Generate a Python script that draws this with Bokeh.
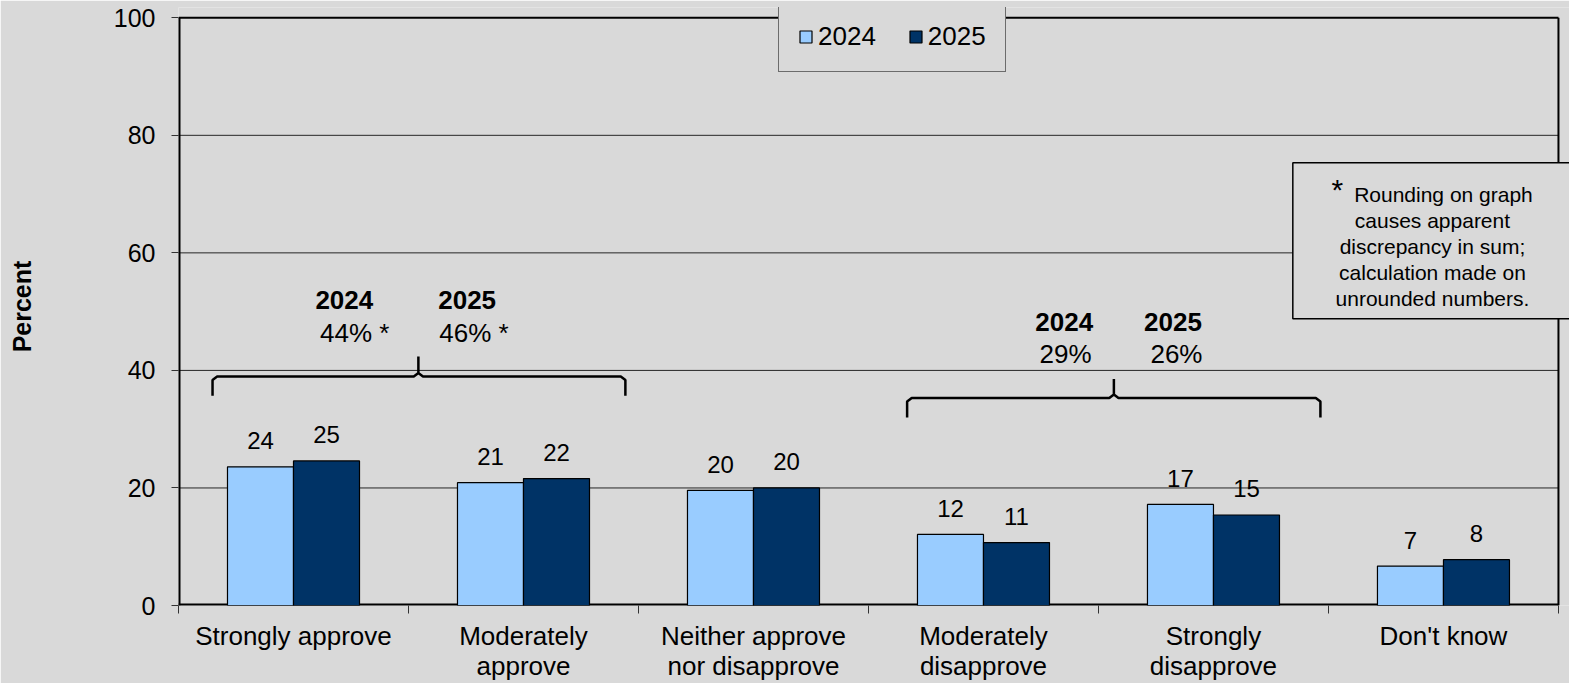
from bokeh.plotting import figure
from bokeh.models import Range1d, FixedTicker, Legend, LegendItem
from bokeh.embed import file_html
from bokeh.resources import INLINE
from bokeh.core.properties import value

# ---------------- data ----------------
categories = ["Strongly approve", "Moderately\napprove", "Neither approve\nnor disapprove",
              "Moderately\ndisapprove", "Strongly\ndisapprove", "Don't know"]
years = ["2024", "2025"]
values_2024 = [23.6, 20.9, 19.6, 12.1, 17.2, 6.7]
values_2025 = [24.6, 21.6, 20.0, 10.7, 15.4, 7.8]
y_ticks = [0, 20, 40, 60, 80, 100]
approve_totals = ["44% *", "46% *"]
disapprove_totals = ["29%", "26%"]
note_lines = ["Rounding on graph", "causes apparent", "discrepancy in sum;",
              "calculation made on", "unrounded numbers."]

FONT = value("Liberation Sans")
BG = "#d9d9d9"
C2024 = "#99ccff"
C2025 = "#003366"

n = len(categories)
Y_TOP = 101.75          # a little headroom above 100 so the legend can sit over the top border
X_END = n + 0.048       # a little room right of the last category for the note box

p = figure(width=1569, height=683, x_range=Range1d(0, X_END), y_range=Range1d(0, Y_TOP),
           output_backend="svg", toolbar_location=None,
           min_border_left=178, min_border_right=0, min_border_top=7, min_border_bottom=78,
           background_fill_color=BG, border_fill_color=BG)
p.outline_line_color = None

centers = [i + 0.5 for i in range(n)]
bw = 0.287
x24 = [c - bw / 2 for c in centers]
x25 = [c + bw / 2 for c in centers]

# grid lines and plot border (drawn through the data scales)
inner = y_ticks[1:-1]
p.segment(x0=[0] * len(inner), x1=[n] * len(inner), y0=inner, y1=inner,
          line_color="#262626", line_width=1)
p.segment(x0=[0, n], x1=[n, n], y0=[y_ticks[-1], 0], y1=[y_ticks[-1], y_ticks[-1]],
          line_color="black", line_width=2)
p.segment(x0=[0, 0], x1=[0, n], y0=[0, 0], y1=[y_ticks[-1], 0],
          line_color="black", line_width=4)

r24 = p.vbar(x=x24, top=values_2024, width=bw, fill_color=C2024, line_color="black", line_width=1.2)
r25 = p.vbar(x=x25, top=values_2025, width=bw, fill_color=C2025, line_color="black", line_width=1.2)

# data labels
p.text(x=x24, y=values_2024, text=[f"{v:.0f}" for v in values_2024], text_font=FONT,
       text_font_size="24px", text_align="center", text_baseline="middle", y_offset=-26,
       text_color="black")
p.text(x=x25, y=values_2025, text=[f"{v:.0f}" for v in values_2025], text_font=FONT,
       text_font_size="24px", text_align="center", text_baseline="middle", y_offset=-26,
       text_color="black")

# axes
p.yaxis.ticker = FixedTicker(ticks=y_ticks)
p.yaxis.major_label_text_font = "Liberation Sans"
p.yaxis.major_label_text_font_size = "25px"
p.yaxis.major_label_text_color = "black"
p.yaxis.major_tick_out = 7
p.yaxis.major_tick_in = 0
p.yaxis.major_tick_line_color = "#333333"
p.yaxis.minor_tick_line_color = None
p.yaxis.axis_line_color = None
p.yaxis.major_label_standoff = 16
p.yaxis.axis_label = "Percent"
p.yaxis.axis_label_text_font = "Liberation Sans"
p.yaxis.axis_label_text_font_style = "bold"
p.yaxis.axis_label_text_font_size = "25px"
p.yaxis.axis_label_text_color = "black"
p.yaxis.axis_label_standoff = 75

p.xaxis.ticker = FixedTicker(ticks=centers, minor_ticks=list(range(n + 1)))
p.xaxis.major_label_overrides = {c: lab for c, lab in zip(centers, categories)}
p.xaxis.major_label_text_font = "Liberation Sans"
p.xaxis.major_label_text_font_size = "26px"
p.xaxis.major_label_text_color = "black"
p.xaxis.major_label_text_line_height = 1.0
p.xaxis.major_tick_line_color = None
p.xaxis.major_tick_out = 0
p.xaxis.major_tick_in = 0
p.xaxis.minor_tick_out = 8
p.xaxis.minor_tick_in = 0
p.xaxis.minor_tick_line_color = "#333333"
p.xaxis.axis_line_color = None
p.xaxis.major_label_standoff = 7

p.xgrid.grid_line_color = None
p.ygrid.grid_line_color = None


# brackets
def bracket(x0, x1, xc, yh, yhook, ypeak, dx=0.02, dy=0.6):
    xs = [x0, x0, x0 + dx, xc - dx, xc, xc, xc, xc + dx, x1 - dx, x1, x1]
    ys = [yhook, yh - dy, yh, yh, yh + dy, ypeak, yh + dy, yh, yh, yh - dy, yhook]
    return xs, ys


bx, by = bracket(0.148, 1.943, 1.043, 38.95, 35.7, 42.35)
p.line(bx, by, line_color="black", line_width=2.5)
bx, by = bracket(3.168, 4.965, 4.067, 35.3, 32.0, 38.55)
p.line(bx, by, line_color="black", line_width=2.5)

p.text(x=[0.721, 1.255], y=[52.05, 52.05], text=years, text_font=FONT, text_font_size="26px",
       text_font_style="bold", text_align="center", text_baseline="middle", text_color="black")
p.text(x=[0.766, 1.285], y=[46.3, 46.3], text=approve_totals, text_font=FONT, text_font_size="26px",
       text_align="center", text_baseline="middle", text_color="black")
p.text(x=[3.851, 4.324], y=[48.24, 48.24], text=years, text_font=FONT, text_font_size="26px",
       text_font_style="bold", text_align="center", text_baseline="middle", text_color="black")
p.text(x=[3.857, 4.339], y=[42.74, 42.74], text=disapprove_totals, text_font=FONT, text_font_size="26px",
       text_align="center", text_baseline="middle", text_color="black")

# note box
p.quad(left=[4.845], right=[6.2], top=[75.33], bottom=[48.78], fill_color=BG, line_color="black",
       line_width=1.5)
p.text(x=[5.039], y=[70.8], text=["*"], text_font=FONT, text_font_size="30px",
       text_align="center", text_baseline="middle", text_color="black")
p.text(x=[5.5] + [5.452] * 4, y=[69.88] * 5, text=note_lines, text_font=FONT, text_font_size="21px",
       text_align="center", text_baseline="middle",
       y_offset=[0, 25.8, 51.6, 77.4, 103.2], text_color="black")

# legend
legend = Legend(items=[LegendItem(label=years[0], renderers=[r24]),
                       LegendItem(label=years[1], renderers=[r25])],
                orientation="horizontal", location=(600, 533))
legend.label_text_font = "Liberation Sans"
legend.label_text_font_size = "26px"
legend.label_text_color = "black"
legend.glyph_width = 15
legend.glyph_height = 15
legend.label_standoff = 5
legend.spacing = 32
legend.padding = 19
legend.margin = 0
legend.border_line_color = "black"
legend.border_line_width = 1
legend.background_fill_color = BG
legend.background_fill_alpha = 1.0
p.add_layout(legend)

open("out.html", "w").write(file_html(p, INLINE))
